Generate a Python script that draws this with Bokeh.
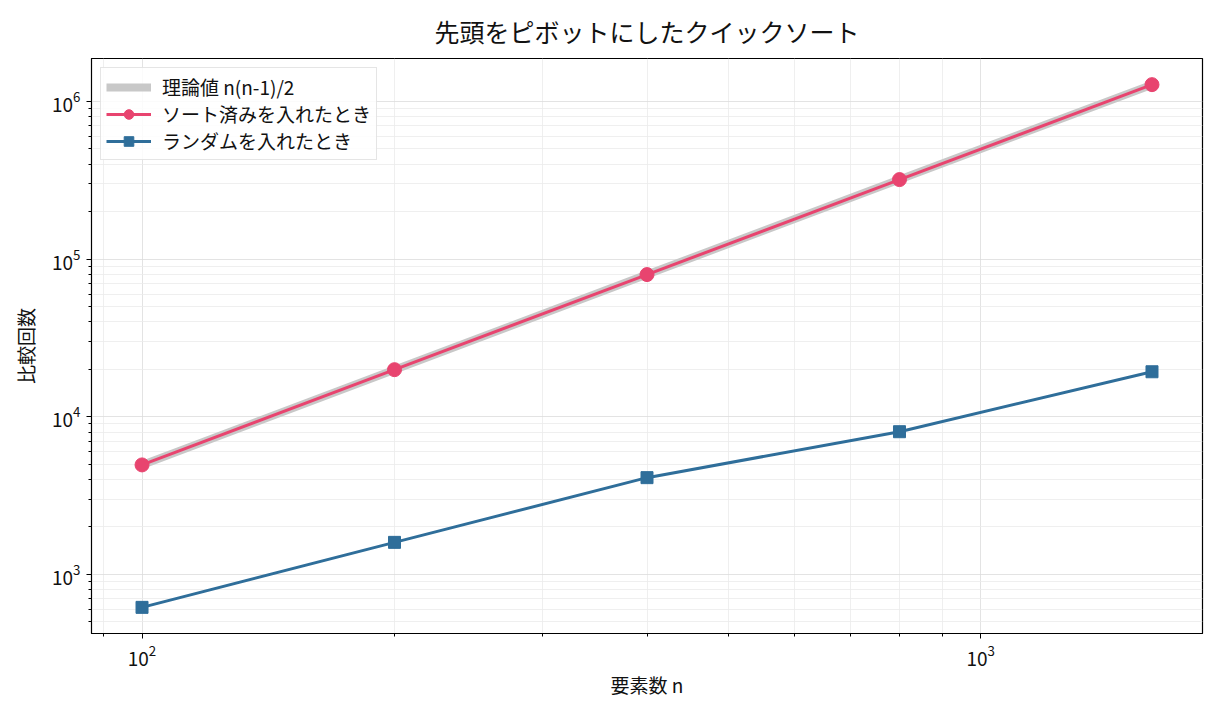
from bokeh.plotting import figure
from bokeh.models import Range1d, FixedTicker, Legend, LegendItem
from bokeh.embed import file_html
from bokeh.resources import INLINE

# Data
n_values = [100, 200, 400, 800, 1600]
theory = [4950, 19900, 79800, 319600, 1279200]
sorted_counts = [4950, 19900, 79800, 319600, 1279200]
random_counts = [618, 1597, 4110, 8040, 19300]

title_text = "先頭をピボットにしたクイックソート"
x_label = "要素数 n"
y_label = "比較回数"
legend_labels = ["理論値 n(n-1)/2", "ソート済みを入れたとき", "ランダムを入れたとき"]

x_major = [100, 1000]
x_minor = [90, 200, 300, 400, 500, 600, 700, 800, 900]
y_major = [1e3, 1e4, 1e5, 1e6]
y_minor = [m * d for d in [100, 1000, 10000, 100000] for m in range(2, 10)]

FONT = "Noto Sans CJK JP"
PINK = "#e8446f"
BLUE = "#2f6e9a"
GRAY = "#c8c8c8"
TXT = "#111111"

p = figure(width=1219, height=713, x_axis_type="log", y_axis_type="log",
           output_backend="svg", toolbar_location=None,
           x_range=Range1d(87.05, 1838.0), y_range=Range1d(421.9, 1.874e6),
           min_border_left=91, min_border_right=17, min_border_top=57, min_border_bottom=80)

p.title.text = title_text
p.title.align = "center"
p.title.text_font = FONT
p.title.text_font_size = "25px"
p.title.text_font_style = "normal"
p.title.text_color = TXT
p.title.standoff = 20

p.outline_line_color = "black"
p.outline_line_width = 1.2

for ax, lab in ((p.xaxis, x_label), (p.yaxis, y_label)):
    ax.axis_label = lab
    ax.axis_label_text_font = FONT
    ax.axis_label_text_font_size = "19px"
    ax.axis_label_text_font_style = "normal"
    ax.axis_label_text_color = TXT
    ax.major_label_text_font = FONT
    ax.major_label_text_font_size = "19px"
    ax.major_label_text_color = TXT
    ax.axis_line_color = "black"
    ax.major_tick_in = 0
    ax.major_tick_out = 5
    ax.minor_tick_in = 0
    ax.minor_tick_out = 3
    ax.major_tick_line_color = "black"
    ax.minor_tick_line_color = "black"
    ax.major_label_standoff = 6

p.xaxis.axis_label_standoff = 2
p.yaxis.axis_label_standoff = 10

p.xaxis.ticker = FixedTicker(ticks=x_major, minor_ticks=x_minor)
p.yaxis.ticker = FixedTicker(ticks=y_major, minor_ticks=y_minor)

for g in (p.xgrid, p.ygrid):
    g.grid_line_color = "#dcdcdc"
    g.grid_line_width = 0.8
    g.minor_grid_line_color = "#ebebeb"
    g.minor_grid_line_width = 0.8

r_theory = p.line(n_values, theory, line_color=GRAY, line_width=8)
r_sorted_l = p.line(n_values, sorted_counts, line_color=PINK, line_width=3)
r_sorted_m = p.scatter(n_values, sorted_counts, marker="circle", size=14,
                       fill_color=PINK, line_color=PINK)
r_rand_l = p.line(n_values, random_counts, line_color=BLUE, line_width=3)
r_rand_m = p.scatter(n_values, random_counts, marker="square", size=12,
                     fill_color=BLUE, line_color=BLUE)

legend = Legend(items=[
    LegendItem(label=legend_labels[0], renderers=[r_theory]),
    LegendItem(label=legend_labels[1], renderers=[r_sorted_l, r_sorted_m]),
    LegendItem(label=legend_labels[2], renderers=[r_rand_l, r_rand_m]),
], location="top_left")
legend.label_text_font = FONT
legend.label_text_font_size = "19px"
legend.label_text_color = TXT
legend.glyph_width = 45
legend.glyph_height = 24
legend.label_height = 20
legend.label_standoff = 11
legend.spacing = 0
legend.padding = 5
legend.margin = 9
legend.border_line_color = "#cccccc"
legend.border_line_width = 1
legend.background_fill_alpha = 0.85
p.add_layout(legend)

open("out.html", "w").write(file_html(p, INLINE))
